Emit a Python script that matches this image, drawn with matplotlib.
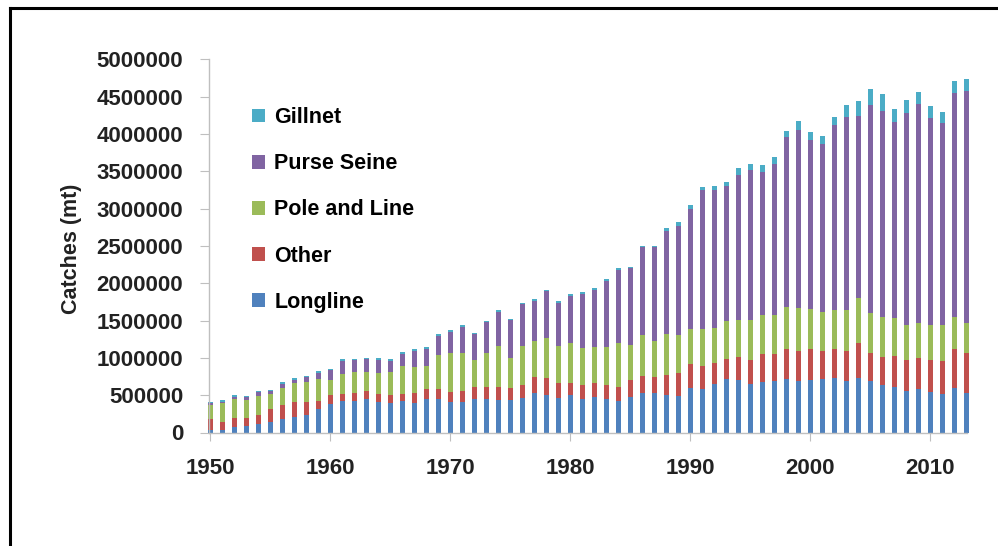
import numpy as np
import matplotlib
matplotlib.use("Agg")
from matplotlib import pyplot as plt
from matplotlib.patches import Patch
from matplotlib.lines import Line2D

years = list(range(1950, 2014))

# catches in metric tonnes
longline = [33000, 33000, 74000, 92000, 114000, 136000, 176000, 212000, 239000, 315000,
            386000, 422000, 422000, 449000, 413000, 395000, 418000, 395000, 449000, 449000,
            413000, 413000, 444000, 444000, 435000, 435000, 462000, 534000, 507000, 462000,
            507000, 453000, 480000, 453000, 422000, 480000, 525000, 525000, 507000, 493000,
            601000, 578000, 645000, 721000, 703000, 645000, 681000, 690000, 717000, 690000,
            708000, 717000, 735000, 694000, 730000, 690000, 632000, 614000, 560000, 583000,
            547000, 516000, 596000, 534000]
other = [148000, 103000, 125000, 107000, 125000, 174000, 192000, 197000, 174000, 107000,
         112000, 89000, 112000, 107000, 103000, 103000, 102000, 139000, 138000, 138000,
         130000, 147000, 161000, 161000, 170000, 157000, 179000, 205000, 223000, 197000,
         161000, 179000, 188000, 179000, 192000, 223000, 232000, 223000, 263000, 300000,
         317000, 313000, 291000, 259000, 304000, 326000, 366000, 357000, 397000, 397000,
         411000, 375000, 379000, 402000, 465000, 371000, 380000, 411000, 411000, 411000,
         424000, 442000, 518000, 527000]
pole_line = [187000, 255000, 250000, 236000, 250000, 206000, 228000, 250000, 259000, 295000,
             210000, 273000, 277000, 259000, 277000, 313000, 366000, 339000, 308000, 447000,
             527000, 510000, 366000, 465000, 554000, 402000, 518000, 491000, 536000, 500000,
             536000, 496000, 473000, 509000, 581000, 474000, 545000, 482000, 550000, 513000,
             464000, 491000, 460000, 518000, 500000, 536000, 523000, 523000, 572000, 585000,
             540000, 527000, 527000, 545000, 603000, 544000, 535000, 513000, 469000, 477000,
             465000, 478000, 433000, 410000]
purse_seine = [23000, 22000, 31000, 36000, 49000, 36000, 54000, 49000, 67000, 85000,
               125000, 174000, 160000, 165000, 178000, 151000, 166000, 219000, 228000, 259000,
               281000, 348000, 349000, 415000, 460000, 513000, 563000, 536000, 625000, 580000,
               625000, 728000, 768000, 893000, 982000, 1022000, 1179000, 1251000, 1384000, 1465000,
               1608000, 1867000, 1853000, 1805000, 1943000, 2010000, 1916000, 2023000, 2273000, 2381000,
               2260000, 2242000, 2479000, 2590000, 2447000, 2787000, 2756000, 2618000, 2836000, 2930000,
               2782000, 2715000, 2997000, 3100000]
gillnet = [18000, 22000, 18000, 18000, 22000, 17000, 22000, 18000, 22000, 17000,
           22000, 22000, 18000, 18000, 23000, 23000, 31000, 22000, 18000, 27000,
           22000, 18000, 18000, 13000, 18000, 14000, 17000, 18000, 18000, 18000,
           22000, 22000, 27000, 18000, 22000, 23000, 22000, 22000, 40000, 54000,
           58000, 44000, 54000, 58000, 98000, 76000, 93000, 103000, 85000, 116000,
           112000, 116000, 111000, 157000, 196000, 210000, 228000, 178000, 179000, 165000,
           161000, 138000, 161000, 161000]

series = [("Longline", longline, "#4F81BD"),
          ("Other", other, "#C0504D"),
          ("Pole and Line", pole_line, "#9BBB59"),
          ("Purse Seine", purse_seine, "#8064A2"),
          ("Gillnet", gillnet, "#4BACC6")]

plt.rcParams['font.family'] = ['Liberation Sans', 'DejaVu Sans']
plt.rcParams['font.weight'] = 'bold'

fig = plt.figure(figsize=(9.98, 5.46), dpi=100)
ax = fig.add_axes([209/998, 113.5/546, 758/998, 373.2/546])

bottom = np.zeros(len(years))
for name, vals, col in series:
    ax.bar(years, vals, width=0.4, bottom=bottom, color=col, label=name, clip_on=False)
    bottom = bottom + np.array(vals)

ax.set_xlim(1949.9, 2013.05)
ax.set_ylim(0, 5000000)
ax.set_yticks(np.arange(0, 5000001, 500000))
ax.set_yticklabels([str(v) for v in range(0, 5000001, 500000)])
ax.set_xticks(range(1950, 2011, 10))

grey = "#bfbfbf"
for s in ["top", "right"]:
    ax.spines[s].set_visible(False)
for s in ["left", "bottom"]:
    ax.spines[s].set_color(grey)
    ax.spines[s].set_linewidth(1.0)
ax.tick_params(axis="y", direction="out", length=6.5, color=grey, pad=12,
               labelsize=16, labelcolor="#222222")
ax.tick_params(axis="x", direction="out", length=5.5, color=grey, pad=13,
               labelsize=16, labelcolor="#222222")

fig.text(72/998, 1 - 249/546, "Catches (mt)", rotation=90, ha="center", va="center",
         fontsize=15.5, fontweight="bold", color="#222222")

handles = [Patch(facecolor=col, edgecolor="none", label=name) for name, vals, col in series][::-1]
ax.legend(handles=handles, loc="upper left", bbox_to_anchor=(0.045, 0.895), frameon=False,
          fontsize=15.5, handlelength=0.6, handleheight=0.6, handletextpad=0.45,
          labelspacing=1.17, borderaxespad=0)

# frame lines of the original screenshot
fig.add_artist(Line2D([10/998, 1.0], [1 - 8/546, 1 - 8/546], color="black", lw=2.2))
fig.add_artist(Line2D([10/998, 10/998], [0, 1 - 8/546], color="black", lw=2.2))

fig.savefig("out.png", dpi=100)
